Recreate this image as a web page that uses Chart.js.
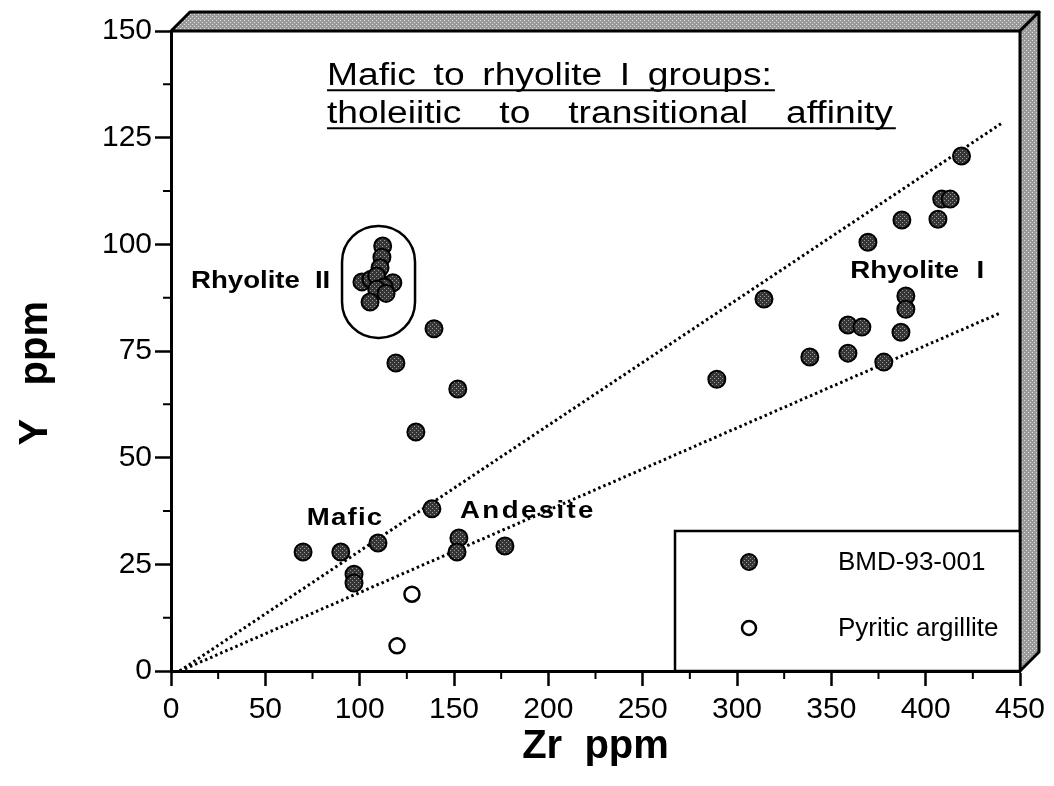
<!DOCTYPE html>
<html>
<head>
<meta charset="utf-8">
<script src="https://cdn.jsdelivr.net/npm/chart.js@4.4.1/dist/chart.umd.min.js"></script>
<style>
  html, body { margin: 0; padding: 0; background: #fff; }
  #wrap { width: 1054px; height: 786px; }
</style>
</head>
<body>
<div id="wrap"><canvas id="zrY"></canvas></div>
<script>
// BMD-93-001 samples (Zr ppm, Y ppm)
const bmdZr = [70, 90, 109.7, 97, 97,
  138.3, 152.6, 151.6, 177,
  139.4, 119.2, 152, 129.8,
  112.2, 111.8, 110.8, 101.2, 106, 109, 117.6, 113, 109, 105.5, 114,
  289.3, 314.3, 338.6, 358.8, 358.8, 366.2, 377.8, 386.9, 389.5, 389.5,
  369.4, 387.4, 406.5, 408.5, 413, 419];
const bmdY = [27.9, 27.9, 30, 22.7, 20.6,
  38, 31.2, 27.9, 29.3,
  80.2, 72.2, 66.1, 56,
  99.6, 97, 94.5, 91.2, 91.8, 92.6, 91, 90, 89.5, 86.5, 88.5,
  68.4, 87.2, 73.6, 74.5, 81.1, 80.6, 72.4, 79.4, 87.9, 84.8,
  100.5, 105.7, 105.9, 110.6, 110.6, 120.7];

// pyritic argillite
const argZr = [127.7, 119.8];
const argY = [18, 5.9];

// dotted reference lines
const upperZr = [4.6, 440];
const upperY = [0, 128.3];
const lowerZr = [4.7, 440];
const lowerY = [0, 84];

const xTicks = [0, 50, 100, 150, 200, 250, 300, 350, 400, 450];
const yTicks = [0, 25, 50, 75, 100, 125, 150];

const pts = (xs, ys) => xs.map((x, i) => ({x: x, y: ys[i]}));

function makePattern(base, dot) {
  const c = document.createElement('canvas');
  c.width = c.height = 4;
  const g = c.getContext('2d');
  g.fillStyle = base; g.fillRect(0, 0, 4, 4);
  g.fillStyle = dot; g.fillRect(0, 0, 1, 1); g.fillRect(2, 2, 1, 1);
  return g.createPattern(c, 'repeat');
}
const dotFill = makePattern('#363636', '#9a9a9a');
const bevelFill = makePattern('#9a9a9a', '#e0e0e0');

const SX = 1.2; // the reference lettering is horizontally wide

function wideText(ctx, text, x, y) {
  ctx.save();
  ctx.translate(x, y);
  ctx.scale(SX, 1);
  ctx.textAlign = 'left';
  ctx.fillText(text, 0, 0);
  ctx.restore();
}

function justified(ctx, words, x0, x1, y) {
  const w = words.map(t => ctx.measureText(t).width * SX);
  const gap = (x1 - x0 - w.reduce((a, b) => a + b, 0)) / (words.length - 1);
  let x = x0;
  words.forEach((t, i) => { wideText(ctx, t, x, y); x += w[i] + gap; });
  ctx.lineWidth = 2;
  ctx.beginPath(); ctx.moveTo(x0, y + 5); ctx.lineTo(x1 + 3, y + 5); ctx.stroke();
}

const deco = {
  id: 'deco',
  beforeDatasetsDraw(chart) {
    const {ctx, chartArea: a} = chart;
    const d = 19;
    ctx.save();
    ctx.fillStyle = bevelFill;
    ctx.strokeStyle = '#000';
    ctx.lineWidth = 3;
    ctx.lineJoin = 'round';
    ctx.beginPath();
    ctx.moveTo(a.left, a.top); ctx.lineTo(a.right, a.top);
    ctx.lineTo(a.right + d, a.top - d); ctx.lineTo(a.left + d, a.top - d);
    ctx.closePath(); ctx.fill(); ctx.stroke();
    ctx.beginPath();
    ctx.moveTo(a.right, a.top); ctx.lineTo(a.right + d, a.top - d);
    ctx.lineTo(a.right + d, a.bottom - d); ctx.lineTo(a.right, a.bottom);
    ctx.closePath(); ctx.fill(); ctx.stroke();

    // minor ticks
    const xs = chart.scales.x, ys = chart.scales.y;
    ctx.lineWidth = 2;
    ctx.beginPath();
    for (let v = 25; v < 450; v += 50) {
      const p = xs.getPixelForValue(v);
      ctx.moveTo(p, a.bottom); ctx.lineTo(p, a.bottom + 8);
    }
    for (let v = 12.5; v < 150; v += 25) {
      const p = ys.getPixelForValue(v);
      ctx.moveTo(a.left - 8, p); ctx.lineTo(a.left, p);
    }
    ctx.stroke();
    ctx.restore();
  },
  afterDatasetsDraw(chart) {
    const {ctx, chartArea: a} = chart;
    const xs = chart.scales.x, ys = chart.scales.y;
    const X = v => xs.getPixelForValue(v), Y = v => ys.getPixelForValue(v);
    ctx.save();
    ctx.fillStyle = '#000';
    ctx.strokeStyle = '#000';
    ctx.textBaseline = 'alphabetic';

    // title
    ctx.font = '31px "Liberation Sans", Arial, sans-serif';
    justified(ctx, ['Mafic', 'to', 'rhyolite', 'I', 'groups:'], X(82.7), X(318.5), Y(137.3));
    justified(ctx, ['tholeiitic', 'to', 'transitional', 'affinity'], X(82.7), X(382.6), Y(128.4));

    // group labels
    ctx.font = 'bold 23px "Liberation Sans", Arial, sans-serif';
    wideText(ctx, 'Rhyolite', X(10.6), Y(89.8));
    wideText(ctx, 'II', X(76.3), Y(89.8));
    wideText(ctx, 'Rhyolite', X(360), Y(92.1));
    wideText(ctx, 'I', X(427), Y(92.1));
    ctx.letterSpacing = '1px';
    wideText(ctx, 'Mafic', X(72), Y(34.2));
    ctx.letterSpacing = '2px';
    wideText(ctx, 'Andesite', X(153.2), Y(35.9));
    ctx.letterSpacing = '0px';

    // Rhyolite II envelope
    const cx = X(110), cy = Y(91.2);
    ctx.lineWidth = 2.5;
    ctx.beginPath();
    ctx.roundRect(cx - 36.5, cy - 56, 73, 112, 36);
    ctx.stroke();

    // legend
    const lx = a.right - 345, ly = a.bottom - 140;
    ctx.fillStyle = '#fff';
    ctx.fillRect(lx, ly, 345, 140);
    ctx.lineWidth = 2.5;
    ctx.strokeRect(lx, ly, 345, 140);
    ctx.beginPath(); ctx.arc(lx + 74, ly + 31, 8, 0, Math.PI * 2);
    ctx.fillStyle = dotFill; ctx.fill(); ctx.lineWidth = 2; ctx.stroke();
    ctx.beginPath(); ctx.arc(lx + 74, ly + 97, 7, 0, Math.PI * 2);
    ctx.fillStyle = '#fff'; ctx.fill(); ctx.lineWidth = 2.5; ctx.stroke();
    ctx.fillStyle = '#000';
    ctx.font = '26px "Liberation Sans", Arial, sans-serif';
    ctx.textBaseline = 'middle';
    ctx.fillText('BMD-93-001', lx + 163, ly + 32);
    ctx.fillText('Pyritic argillite', lx + 163, ly + 98);
    ctx.restore();
  }
};

const tickFont = {family: '"Liberation Sans Narrow", "Liberation Sans", Arial, sans-serif', size: 30};

new Chart(document.getElementById('zrY'), {
  type: 'scatter',
  data: {
    datasets: [
      {label: 'BMD-93-001', data: pts(bmdZr, bmdY), pointRadius: 8.5,
        pointBackgroundColor: dotFill, pointBorderColor: '#000', pointBorderWidth: 2},
      {label: 'Pyritic argillite', data: pts(argZr, argY), pointRadius: 7.5,
        pointBackgroundColor: '#fff', pointBorderColor: '#000', pointBorderWidth: 2.5},
      {label: 'upper', data: pts(upperZr, upperY), showLine: true, pointRadius: 0,
        borderColor: '#000', borderWidth: 3, borderDash: [2.5, 3]},
      {label: 'lower', data: pts(lowerZr, lowerY), showLine: true, pointRadius: 0,
        borderColor: '#000', borderWidth: 3, borderDash: [2.5, 3]}
    ]
  },
  options: {
    responsive: true,
    maintainAspectRatio: false,
    animation: false,
    layout: {padding: {top: 31, right: 34, left: 0, bottom: 0}},
    plugins: {legend: {display: false}, tooltip: {enabled: false}},
    scales: {
      x: {
        type: 'linear', min: 0, max: 450,
        afterFit: s => { s.height = 115; },
        afterBuildTicks: s => { s.ticks = xTicks.map(v => ({value: v})); },
        ticks: {color: '#000', font: tickFont, padding: 6, maxRotation: 0},
        grid: {drawOnChartArea: false, tickLength: 15, tickWidth: 2.5, tickColor: '#000'},
        border: {color: '#000', width: 3},
        title: {display: true, text: 'Zr  ppm', color: '#000',
          font: {family: '"Liberation Sans", Arial, sans-serif', size: 40, weight: 'bold'},
          padding: {bottom: 15}}
      },
      y: {
        type: 'linear', min: 0, max: 150,
        afterFit: s => { s.width = 171; },
        afterBuildTicks: s => { s.ticks = yTicks.map(v => ({value: v})); },
        ticks: {color: '#000', font: tickFont, padding: 3},
        grid: {drawOnChartArea: false, tickLength: 16, tickWidth: 2.5, tickColor: '#000'},
        border: {color: '#000', width: 3},
        title: {display: true, text: 'Y   ppm    ', color: '#000',
          font: {family: '"Liberation Sans", Arial, sans-serif', size: 40, weight: 'bold'},
          padding: {top: 12}}
      }
    }
  },
  plugins: [deco]
});
</script>
</body>
</html>
